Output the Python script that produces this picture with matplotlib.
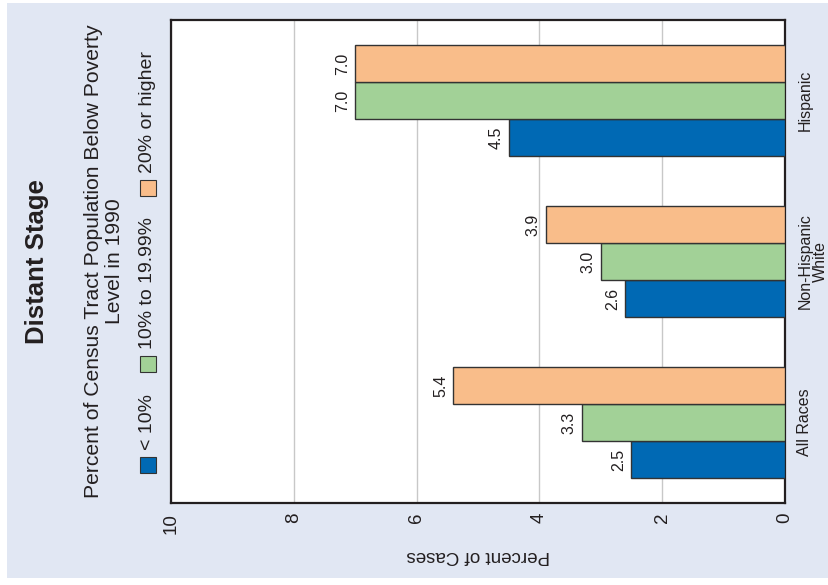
import matplotlib
matplotlib.use('Agg')
import matplotlib.pyplot as plt
from matplotlib.patches import Rectangle
import numpy as np

plt.rcParams['font.family'] = ['Liberation Sans', 'DejaVu Sans']

# data
groups = ['All Races', 'Non-Hispanic\nWhite', 'Hispanic']
series = ['< 10%', '10% to 19.99%', '20% or higher']
low = [2.5, 2.6, 4.5]
mid = [3.3, 3.0, 7.0]
high = [5.4, 3.9, 7.0]
ticks = [0, 2, 4, 6, 8, 10]

colors = ['#0069b4', '#a2d197', '#f9bd8a']
txt = '#231f20'
W, H = 829, 585

fig = plt.figure(figsize=(W / 100, H / 100), dpi=100)
fig.patch.set_facecolor('white')
# light blue panel
fig.add_artist(Rectangle((7 / W, 7 / H), 822 / W, 575 / H, transform=fig.transFigure,
                         facecolor='#e1e7f3', edgecolor='none', zorder=-5))

ax = fig.add_axes([171 / W, (H - 503) / H, (785 - 171) / W, (503 - 20) / H])
ax.set_zorder(2)
ax.set_facecolor('white')

y = np.arange(len(groups))
h = 0.23
for k, vals in enumerate([low, mid, high]):
    pos = y + (k - 1) * h
    bars = ax.barh(pos, vals, height=h, color=colors[k], edgecolor='#333333', linewidth=1, zorder=3)
    for b, v in zip(bars, vals):
        ax.annotate('%.1f' % v, (v, b.get_y() + b.get_height() / 2), xytext=(-4, 0),
                    textcoords='offset points', rotation=90, ha='right', va='center',
                    fontsize=11.5, color=txt)

ax.set_xlim(10, 0)
ax.set_ylim(-0.5, 2.5)
ax.set_xticks(ticks)
ax.set_xticklabels([str(t) for t in ticks], rotation=90, fontsize=13.5, color=txt)
ax.tick_params(axis='x', length=0, pad=7)
ax.xaxis.grid(True, color='#c8c8c8', linewidth=1)
ax.set_axisbelow(True)

ax.yaxis.tick_right()
ax.set_yticks(y)
ax.set_yticklabels(groups, rotation=90, fontsize=11.5, color=txt, va='center', ha='left',
                   multialignment='center', linespacing=1.0)
ax.tick_params(axis='y', length=0, pad=9)

for s in ax.spines.values():
    s.set_linewidth(1.6)
    s.set_color('#231f20')

ax.set_xlabel('Percent of Cases', rotation=180, fontsize=13.5, color=txt, labelpad=10)

# title and subtitle
fig.text(37 / W, (H - 262) / H, 'Distant Stage', rotation=90, ha='center', va='center',
         fontsize=18.5, fontweight='bold', color=txt)
fig.text(104 / W, (H - 261) / H, 'Percent of Census Tract Population Below Poverty\nLevel in 1990',
         rotation=90, ha='center', va='center', multialignment='center',
         fontsize=15.2, linespacing=1.15, color=txt)

# legend
leg_y = [465, 364, 188]
for lab, c, yc in zip(series, colors, leg_y):
    fig.add_artist(Rectangle(((148 - 8) / W, (H - yc - 8) / H), 16 / W, 16 / H,
                             transform=fig.transFigure, facecolor=c,
                             edgecolor='#333333', linewidth=0.8))
    fig.text(148 / W, (H - yc + 15) / H, lab, rotation=90, ha='center', va='bottom',
             fontsize=14, color=txt)

fig.savefig('out.png', dpi=100)
